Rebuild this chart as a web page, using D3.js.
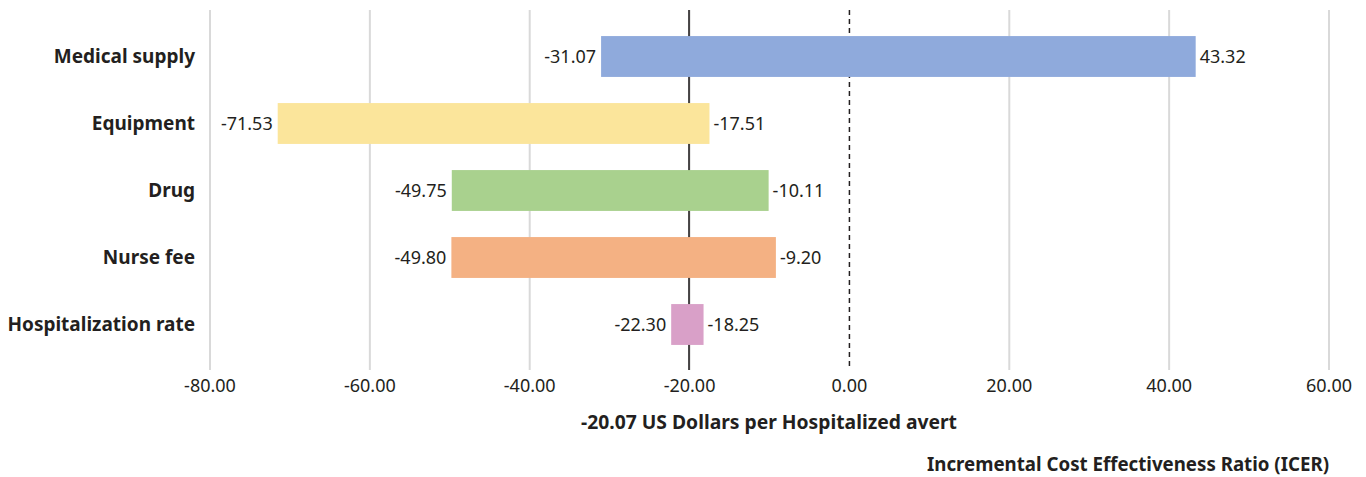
<html>
<head><meta charset="utf-8"></head>
<script src="https://d3js.org/d3.v7.min.js"></script>
<style>
body { margin: 0; background: #fff; }
text { font-family: "Noto Sans", sans-serif; fill: #231f20; }
</style>
<body>
<script>
// tornado chart data
var categories = ["Medical supply", "Equipment", "Drug", "Nurse fee", "Hospitalization rate"];
var lowValues  = [-31.07, -71.53, -49.75, -49.80, -22.30];
var highValues = [43.32, -17.51, -10.11, -9.20, -18.25];
var colors     = ["#8faadc", "#fbe59b", "#a9d18e", "#f4b183", "#d9a0c8"];
var baseValue  = -20.07;
var xTicks     = [-80, -60, -40, -20, 0, 20, 40, 60];

var W = 1366, H = 477;
var svg = d3.select("body").append("svg").attr("width", W).attr("height", H);

// plain hyphen for negatives, like the original
var fmt = d3.formatLocale({decimal: ".", thousands: ",", grouping: [3], currency: ["$", ""], minus: "-"}).format(".2f");

var x = d3.scaleLinear().domain([-80, 60]).range([210, 1329]);
var y = d3.scaleBand().domain(categories).range([23, 358]).paddingInner(0.39).paddingOuter(0.195);

var gridTop = 10, gridBottom = 370;

// gridlines (skip 0, drawn dashed)
svg.selectAll(".grid")
  .data(xTicks.filter(function(d){ return d != 0; }))
  .enter().append("line")
  .attr("x1", function(d){ return x(d); }).attr("x2", function(d){ return x(d); })
  .attr("y1", gridTop).attr("y2", gridBottom)
  .attr("stroke", "#d9d9d9").attr("stroke-width", 2);

// zero dashed line
svg.append("line")
  .attr("x1", x(0)).attr("x2", x(0)).attr("y1", gridTop).attr("y2", gridBottom)
  .attr("stroke", "#231f20").attr("stroke-width", 1.5).attr("stroke-dasharray", "5,4");

// tick labels
svg.selectAll(".tick")
  .data(xTicks).enter().append("text")
  .attr("x", function(d){ return x(d); })
  .attr("y", 392)
  .attr("text-anchor", "middle")
  .style("font-size", "18px")
  .text(function(d){ return fmt(d); });

var rows = categories.map(function(c, i){
  return { name: c, lo: lowValues[i], hi: highValues[i], color: colors[i] };
});

// base line
svg.append("line")
  .attr("x1", x(baseValue)).attr("x2", x(baseValue)).attr("y1", gridTop).attr("y2", gridBottom)
  .attr("stroke", "#231f20").attr("stroke-width", 1.6);

svg.selectAll(".bar")
  .data(rows).enter().append("rect")
  .attr("x", function(d){ return x(d.lo); })
  .attr("width", function(d){ return x(d.hi) - x(d.lo); })
  .attr("y", function(d){ return y(d.name); })
  .attr("height", y.bandwidth())
  .attr("fill", function(d){ return d.color; });

// value labels
svg.selectAll(".lolab")
  .data(rows).enter().append("text")
  .attr("x", function(d){ return x(d.lo) - 5; })
  .attr("y", function(d){ return y(d.name) + y.bandwidth() / 2; })
  .attr("dy", "0.35em")
  .attr("text-anchor", "end")
  .style("font-size", "18px")
  .text(function(d){ return fmt(d.lo); });

svg.selectAll(".hilab")
  .data(rows).enter().append("text")
  .attr("x", function(d){ return x(d.hi) + 4; })
  .attr("y", function(d){ return y(d.name) + y.bandwidth() / 2; })
  .attr("dy", "0.35em")
  .attr("text-anchor", "start")
  .style("font-size", "18px")
  .text(function(d){ return fmt(d.hi); });

// category labels
svg.selectAll(".cat")
  .data(categories).enter().append("text")
  .attr("x", 195)
  .attr("y", function(d){ return y(d) + y.bandwidth() / 2; })
  .attr("dy", "0.35em")
  .attr("text-anchor", "end")
  .style("font-size", "19px").style("font-weight", "bold")
  .text(function(d){ return d; });

svg.append("text")
  .attr("x", 769).attr("y", 429)
  .attr("text-anchor", "middle")
  .style("font-size", "19.3px").style("font-weight", "bold")
  .text(fmt(baseValue) + " US Dollars per Hospitalized avert");

svg.append("text")
  .attr("x", 1329).attr("y", 471)
  .attr("text-anchor", "end")
  .style("font-size", "18.7px").style("font-weight", "bold")
  .text("Incremental Cost Effectiveness Ratio (ICER)");
</script>
</body>
</html>
